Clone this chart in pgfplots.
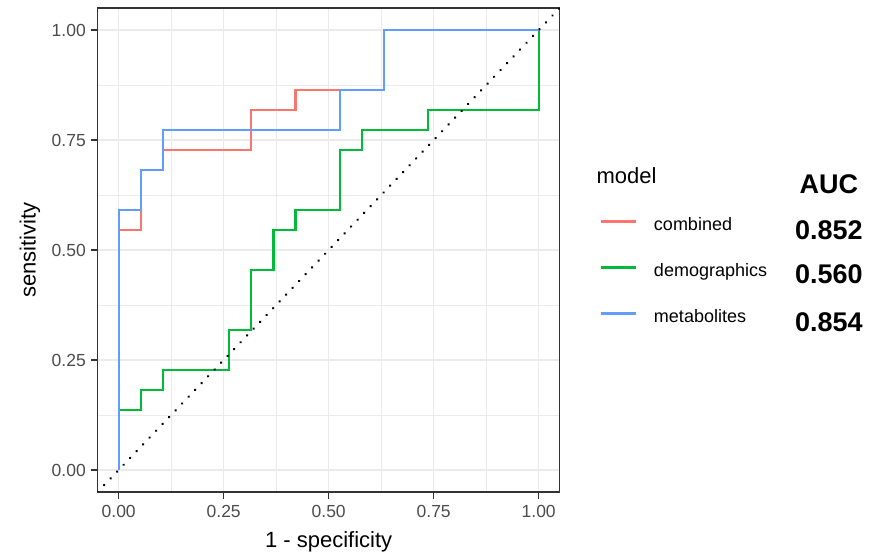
\documentclass[border=0pt]{standalone}
\usepackage{fontspec}
\setmainfont{Liberation Sans}
\usepackage{pgfplots}
\pgfplotsset{compat=1.18}
\definecolor{cRed}{HTML}{F8766D}
\definecolor{cGreen}{HTML}{00BA38}
\definecolor{cBlue}{HTML}{619CFF}
\definecolor{grey20}{gray}{0.2}
\definecolor{grey30}{gray}{0.3}
\definecolor{grey92}{gray}{0.92}
\pgfplotsset{rocline/.style={legend image code/.code={\draw[#1] (0bp,4bp) -- (35bp,4bp);}}}
\begin{document}
\begin{tikzpicture}
\useasboundingbox (0,0) rectangle (879bp,555bp);
\begin{axis}[
  at={(97.7bp,63bp)}, anchor=south west,
  scale only axis, width=462bp, height=484bp,
  xmin=-0.05, xmax=1.05, ymin=-0.05, ymax=1.05,
  xtick={0,0.25,0.5,0.75,1}, ytick={0,0.25,0.5,0.75,1},
  xticklabels={0.00,0.25,0.50,0.75,1.00},
  yticklabels={0.00,0.25,0.50,0.75,1.00},
  minor xtick={0.125,0.375,0.625,0.875},
  minor ytick={0.125,0.375,0.625,0.875},
  grid=both,
  major grid style={draw=grey92, line width=1.4bp},
  minor grid style={draw=grey92, line width=0.7bp},
  axis line style={draw=grey20, line width=1.3bp},
  tick align=outside, tick pos=left,
  major tick length=6.7bp, minor tick length=0pt,
  major tick style={draw=grey20, line width=1.3bp},
  minor tick style={draw=none},
  tick label style={font=\fontsize{17.5bp}{21bp}\selectfont, text=grey30, inner sep=0pt},
  xticklabel style={anchor=north, yshift=-6bp},
  yticklabel style={anchor=east, xshift=-5bp},
  xlabel={1 - specificity}, ylabel={sensitivity},
  label style={font=\fontsize{22bp}{26bp}\selectfont, inner sep=0pt},
  xlabel style={at={(axis description cs:0.5,-0.1033)}, anchor=center},
  ylabel style={at={(axis description cs:-0.1465,0.5)}, anchor=center},
  clip mode=individual,
  legend cell align=left,
  legend style={at={(axis description cs:1.0872,0.5681)}, anchor=north west,
    draw=none, fill=none, inner sep=0pt, outer sep=0pt,
    row sep=29bp, column sep=16.7bp,
    font=\fontsize{18bp}{21bp}\selectfont,
    nodes={inner sep=0pt, text height=13bp, text depth=4bp}},
  rocline,
]
\addplot[cRed, line width=2.3bp] coordinates {
 (0,0) (0,0.54545) (0.05263,0.54545) (0.05263,0.68182) (0.10526,0.68182)
 (0.10526,0.72727) (0.31579,0.72727) (0.31579,0.81818) (0.42105,0.81818)
 (0.42105,0.86364) (0.52632,0.86364) (0.63158,0.86364) (0.63158,1) (1,1)};
\addlegendentry{combined}
\addplot[cGreen, line width=2.3bp] coordinates {
 (0,0) (0,0.13636) (0.05263,0.13636) (0.05263,0.18182) (0.10526,0.18182)
 (0.10526,0.22727) (0.26316,0.22727) (0.26316,0.31818) (0.31579,0.31818)
 (0.31579,0.45455) (0.36842,0.45455) (0.36842,0.54545) (0.42105,0.54545)
 (0.42105,0.59091) (0.52632,0.59091) (0.52632,0.72727) (0.57895,0.72727)
 (0.57895,0.77273) (0.73684,0.77273) (0.73684,0.81818) (1,0.81818) (1,1)};
\addlegendentry{demographics}
\addplot[cBlue, line width=2.3bp] coordinates {
 (0,0) (0,0.59091) (0.05263,0.59091) (0.05263,0.68182) (0.10526,0.68182)
 (0.10526,0.77273) (0.52632,0.77273) (0.52632,0.86364) (0.63158,0.86364)
 (0.63158,1) (1,1)};
\addlegendentry{metabolites}
\addplot[forget plot, black, line width=2.7bp, line cap=round,
  dash pattern=on 0.01bp off 9.4bp] coordinates {(-0.05,-0.05) (1.05,1.05)};
\node[anchor=west, inner sep=0pt, font=\fontsize{22bp}{26bp}\selectfont] at (axis cs:1.1374,0.668) {model};
\node[anchor=center, inner sep=0pt, font=\fontsize{27bp}{31bp}\selectfont\bfseries] at (axis cs:1.691,0.65) {AUC};
\node[anchor=center, inner sep=0pt, font=\fontsize{27bp}{31bp}\selectfont\bfseries] at (axis cs:1.691,0.544) {0.852};
\node[anchor=center, inner sep=0pt, font=\fontsize{27bp}{31bp}\selectfont\bfseries] at (axis cs:1.691,0.444) {0.560};
\node[anchor=center, inner sep=0pt, font=\fontsize{27bp}{31bp}\selectfont\bfseries] at (axis cs:1.691,0.336) {0.854};
\end{axis}
\end{tikzpicture}
\end{document}
